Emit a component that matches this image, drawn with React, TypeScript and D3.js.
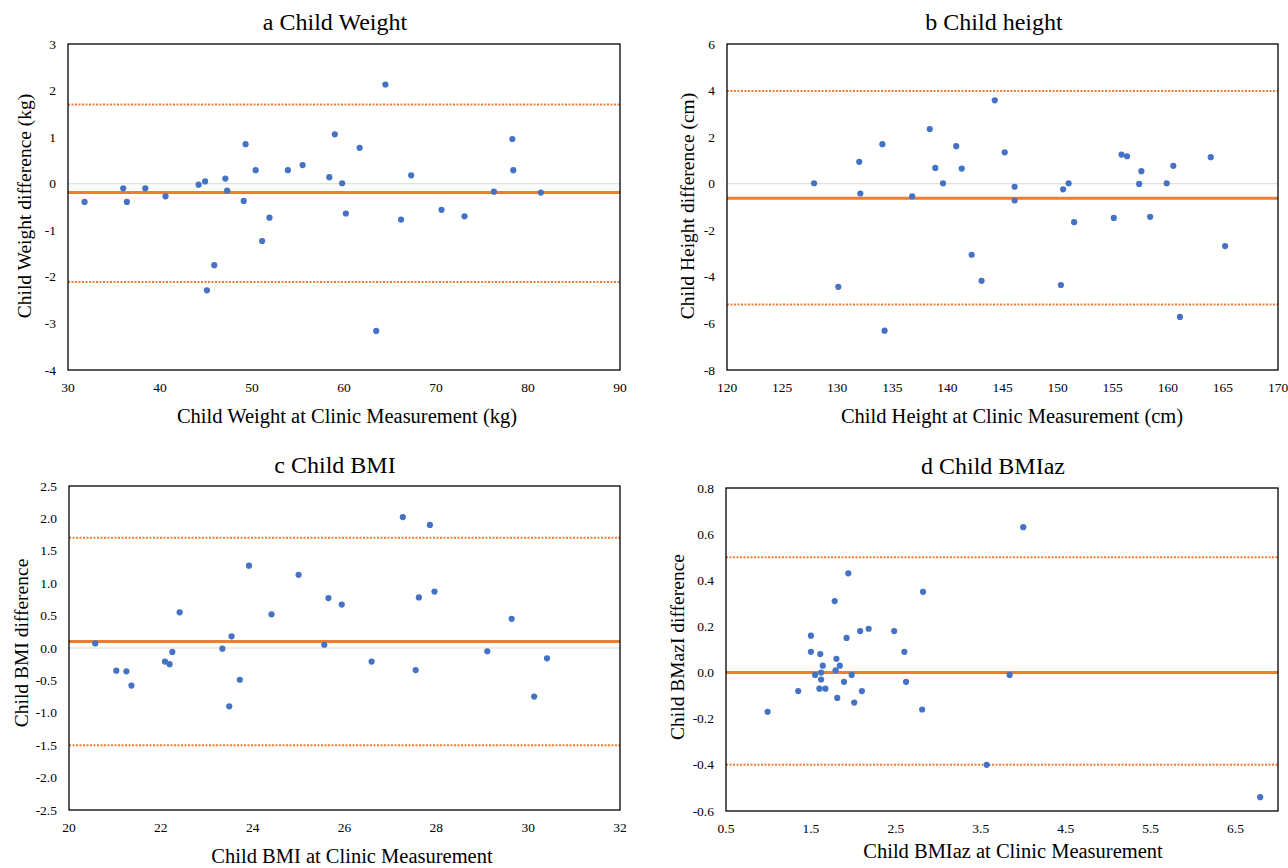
import * as d3 from "d3";
import React from "react";

// a: child weight (kg)
const weightX = [31.8, 36.0, 36.4, 38.4, 40.6, 44.2, 44.9, 45.1, 45.9, 47.1, 47.3, 49.1, 49.3, 50.4, 51.1, 51.9, 53.9, 55.5, 58.4, 59.0, 59.8, 60.2, 61.7, 63.5, 64.5, 66.2, 67.3, 70.6, 73.1, 76.3, 78.3, 78.4, 81.4];
const weightDiff = [-0.39, -0.1, -0.39, -0.1, -0.27, -0.02, 0.05, -2.29, -1.75, 0.11, -0.15, -0.37, 0.85, 0.29, -1.23, -0.73, 0.29, 0.4, 0.14, 1.06, 0.01, -0.64, 0.77, -3.16, 2.13, -0.77, 0.18, -0.56, -0.7, -0.17, 0.96, 0.29, -0.19];
const weightLimits = [-0.19, 1.7, -2.11];
const weightXTicks = [30, 40, 50, 60, 70, 80, 90];
const weightYTicks = [-4, -3, -2, -1, 0, 1, 2, 3];

// b: child height (cm)
const heightX = [127.9, 130.1, 132.0, 132.1, 134.1, 134.3, 136.8, 138.4, 138.9, 139.6, 140.8, 141.3, 142.2, 143.1, 144.3, 145.2, 146.1, 146.1, 150.3, 150.5, 151.0, 151.5, 155.1, 155.8, 156.3, 157.4, 157.6, 158.4, 159.9, 160.5, 161.1, 163.9, 165.2];
const heightDiff = [0.02, -4.43, 0.94, -0.42, 1.7, -6.31, -0.54, 2.35, 0.68, 0.02, 1.61, 0.65, -3.05, -4.17, 3.58, 1.35, -0.13, -0.72, -4.35, -0.24, 0.02, -1.65, -1.47, 1.25, 1.18, -0.01, 0.54, -1.42, 0.02, 0.77, -5.72, 1.14, -2.68];
const heightLimits = [-0.62, 3.98, -5.19];
const heightXTicks = [120, 125, 130, 135, 140, 145, 150, 155, 160, 165, 170];
const heightYTicks = [-8, -6, -4, -2, 0, 2, 4, 6];

// c: child BMI
const bmiX = [20.57, 21.03, 21.25, 21.36, 22.09, 22.19, 22.25, 22.41, 23.34, 23.49, 23.54, 23.72, 23.92, 24.41, 25.0, 25.56, 25.65, 25.94, 26.59, 27.27, 27.55, 27.62, 27.86, 27.96, 29.11, 29.64, 30.13, 30.41];
const bmiDiff = [0.07, -0.35, -0.36, -0.58, -0.21, -0.25, -0.06, 0.55, -0.01, -0.9, 0.18, -0.49, 1.27, 0.52, 1.13, 0.05, 0.77, 0.67, -0.21, 2.02, -0.34, 0.78, 1.9, 0.87, -0.05, 0.45, -0.75, -0.16];
const bmiLimits = [0.1, 1.7, -1.5];
const bmiXTicks = [20, 22, 24, 26, 28, 30, 32];
const bmiYTicks = [-2.5, -2.0, -1.5, -1.0, -0.5, 0.0, 0.5, 1.0, 1.5, 2.0, 2.5];

// d: child BMI z-score
const bmizX = [0.99, 1.35, 1.5, 1.5, 1.55, 1.6, 1.61, 1.62, 1.62, 1.64, 1.67, 1.78, 1.79, 1.8, 1.81, 1.84, 1.89, 1.92, 1.94, 1.98, 2.01, 2.08, 2.1, 2.18, 2.48, 2.6, 2.62, 2.81, 2.82, 3.57, 3.84, 4.0, 6.79];
const bmizDiff = [-0.17, -0.08, 0.16, 0.09, -0.01, -0.07, 0.08, 0.0, -0.03, 0.03, -0.07, 0.31, 0.01, 0.06, -0.11, 0.03, -0.04, 0.15, 0.43, -0.01, -0.13, 0.18, -0.08, 0.19, 0.18, 0.09, -0.04, -0.16, 0.35, -0.4, -0.01, 0.63, -0.54];
const bmizLimits = [0.0, 0.5, -0.4];
const bmizXTicks = [0.5, 1.5, 2.5, 3.5, 4.5, 5.5, 6.5];
const bmizYTicks = [-0.6, -0.4, -0.2, 0.0, 0.2, 0.4, 0.6, 0.8];

const ORANGE = "#ED7D31";
const BLUE = "#4472C4";
const FONT = "Liberation Serif, Times New Roman, DejaVu Serif, serif";

const plain = (v) => String(v);
const oneDec = (v) => v.toFixed(1);

const panels = [
  {
    title: "a Child Weight", xLabel: "Child Weight at Clinic Measurement (kg)", yLabel: "Child Weight difference (kg)",
    xs: weightX, ys: weightDiff, limits: weightLimits, xTicks: weightXTicks, yTicks: weightYTicks,
    xDomain: [30, 90], yDomain: [-4, 3], xFmt: plain, yFmt: plain,
    box: [68, 620, 44, 370], titlePos: [335, 30], xLabelPos: [347, 423], yLabelPos: [24, 206],
  },
  {
    title: "b Child height", xLabel: "Child Height at Clinic Measurement (cm)", yLabel: "Child Height  difference (cm)",
    xs: heightX, ys: heightDiff, limits: heightLimits, xTicks: heightXTicks, yTicks: heightYTicks,
    xDomain: [120, 170], yDomain: [-8, 6], xFmt: plain, yFmt: plain,
    box: [727, 1278, 44, 370], titlePos: [994, 30], xLabelPos: [1012, 423], yLabelPos: [687, 206],
  },
  {
    title: "c Child BMI", xLabel: "Child BMI at Clinic Measurement", yLabel: "Child BMI difference",
    xs: bmiX, ys: bmiDiff, limits: bmiLimits, xTicks: bmiXTicks, yTicks: bmiYTicks,
    xDomain: [20, 32], yDomain: [-2.5, 2.5], xFmt: plain, yFmt: oneDec,
    box: [69, 620, 486, 810], titlePos: [335, 473], xLabelPos: [352, 863], yLabelPos: [21, 643],
  },
  {
    title: "d Child BMIaz", xLabel: "Child BMIaz at Clinic Measurement", yLabel: "Child BMazI difference",
    xs: bmizX, ys: bmizDiff, limits: bmizLimits, xTicks: bmizXTicks, yTicks: bmizYTicks,
    xDomain: [0.5, 7], yDomain: [-0.6, 0.8], xFmt: oneDec, yFmt: oneDec,
    box: [726, 1278, 488, 811], titlePos: [993, 474], xLabelPos: [1013, 858], yLabelPos: [677, 647],
  },
];

const txt = { fontFamily: FONT, fill: "#000" };

const Panel = ({ p }) => {
  const [left, right, top, bottom] = p.box;
  const x = d3.scaleLinear().domain(p.xDomain).range([left, right]);
  const y = d3.scaleLinear().domain(p.yDomain).range([bottom, top]);
  const [bias, upper, lower] = p.limits;

  return (
    <g>
      <text x={p.titlePos[0]} y={p.titlePos[1]} textAnchor="middle" fontSize={24} style={txt}>
        {p.title}
      </text>

      {/* zero line */}
      <line x1={left} x2={right} y1={y(0)} y2={y(0)} stroke="#d9d9d9" strokeWidth={1} />
      {/* limits of agreement */}
      {[upper, lower].map((v, i) => (
        <line key={i} x1={left} x2={right} y1={y(v)} y2={y(v)} stroke={ORANGE} strokeWidth={2} strokeDasharray="2,1.5" />
      ))}
      {/* mean difference */}
      <line x1={left} x2={right} y1={y(bias)} y2={y(bias)} stroke={ORANGE} strokeWidth={3} />

      {p.xs.map((v, i) => (
        <circle key={i} cx={x(v)} cy={y(p.ys[i])} r={3.1} fill={BLUE} />
      ))}

      <rect x={left} y={top} width={right - left} height={bottom - top} fill="none" stroke="#000" strokeWidth={1.3} />

      {p.yTicks.map((t) => (
        <text key={"y" + t} x={left - 12} y={y(t)} textAnchor="end" dominantBaseline="central" fontSize={13.5} style={txt}>
          {p.yFmt(t)}
        </text>
      ))}
      {p.xTicks.map((t) => (
        <text key={"x" + t} x={x(t)} y={bottom + 17} textAnchor="middle" dominantBaseline="central" fontSize={13.5} style={txt}>
          {p.xFmt(t)}
        </text>
      ))}

      <text x={p.xLabelPos[0]} y={p.xLabelPos[1]} textAnchor="middle" fontSize={20.5} style={txt}>
        {p.xLabel}
      </text>
      <text
        transform={`translate(${p.yLabelPos[0]},${p.yLabelPos[1]}) rotate(-90)`}
        textAnchor="middle"
        dominantBaseline="central"
        fontSize={19.5}
        style={txt}
      >
        {p.yLabel}
      </text>
    </g>
  );
};

const App = () => {
  return (
    <svg width={1288} height={868} style={{ position: "absolute", left: 0, top: 0, background: "#fff" }}>
      <rect width={1288} height={868} fill="#fff" />
      {panels.map((p) => (
        <Panel key={p.title} p={p} />
      ))}
    </svg>
  );
};

export default App;
